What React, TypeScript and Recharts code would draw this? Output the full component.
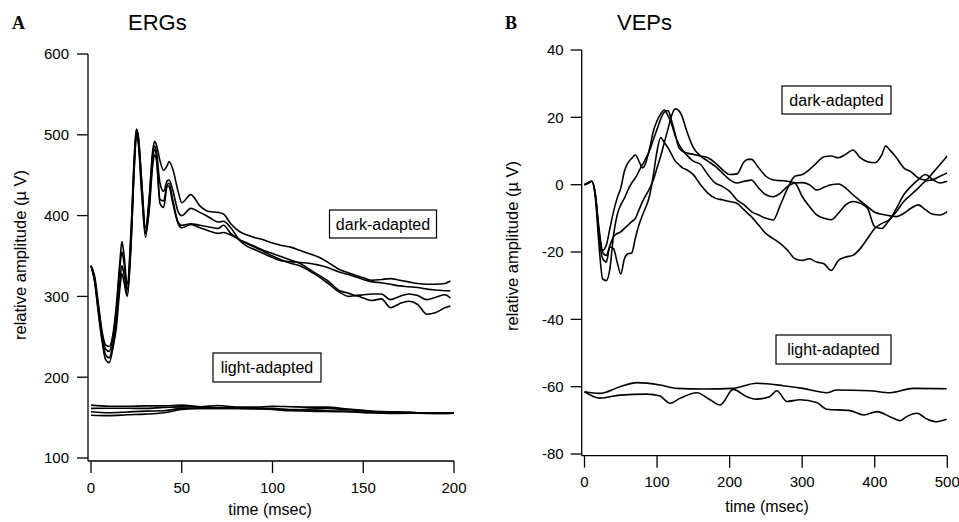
import React from 'react';
import { LineChart, Line, XAxis, YAxis } from 'recharts';

// ---------- Panel A: ERGs ----------
const ergT = [
  0, 2, 4, 6, 8, 10, 12, 14, 16, 17,
  18, 20, 22, 24, 25, 26, 28, 30, 32, 34,
  35, 36, 38, 40, 42, 43, 45, 48, 50, 55,
  60, 65, 70, 73, 77, 82, 86, 90, 95, 100,
  105, 110, 115, 120, 125, 130, 137, 142, 146, 150,
  155, 160, 165, 170, 175, 180, 185, 190, 195, 198,
];
const ergDark1 = [
  338, 325, 292, 258, 240, 238, 252, 290, 345, 368,
  355, 315, 380, 480, 507, 500, 440, 380, 420, 480,
  492, 488, 468, 456, 462, 467, 458, 430, 416, 426,
  412, 405, 404, 402, 390, 380, 376, 373, 370, 366,
  363, 361, 357, 353, 349, 343, 333, 329, 326, 323,
  320, 321, 322, 320, 318, 316, 315, 315, 316, 319,
];
const ergDark2 = [
  338, 322, 288, 255, 235, 232, 248, 282, 338, 355,
  345, 308, 372, 475, 505, 498, 438, 385, 418, 476,
  486, 480, 440, 430, 443, 444, 432, 405, 400, 409,
  404, 398, 392, 393, 385, 369, 362, 358, 353, 348,
  344, 343, 342, 341, 339, 336, 330, 327, 324, 321,
  318, 317, 315, 313, 312, 311, 309, 308, 307, 307,
];
const ergDark3 = [
  338, 320, 284, 250, 228, 224, 240, 270, 320, 338,
  330, 302, 365, 470, 502, 495, 430, 373, 410, 470,
  482, 475, 415, 410, 438, 440, 420, 392, 388, 390,
  388, 386, 384, 388, 378, 370, 366, 362, 357, 353,
  349, 345, 341, 334, 327, 320, 307, 304, 301, 302,
  303, 303, 296, 300, 303, 301, 296, 299, 302, 298,
];
const ergDark4 = [
  338, 318, 280, 246, 222, 218, 235, 262, 312, 328,
  320, 300, 360, 465, 498, 490, 425, 378, 405, 462,
  475, 470, 420, 418, 437, 436, 416, 390, 385, 389,
  385, 381, 378, 379, 376, 370, 365, 361, 356, 350,
  345, 341, 338, 332, 325, 317, 305, 300, 301, 298,
  295, 297, 286, 291, 294, 290, 278, 280, 286, 288,
];
const ergLightT = [0, 10, 20, 30, 40, 50, 60, 70, 80, 90, 100, 110, 120, 130, 140, 150, 160, 170, 180, 190, 200];
const ergLight1 = [165.4, 164, 164, 164.5, 164.5, 165.5, 163.5, 165, 163, 163, 164, 163.5, 163, 163, 161, 159, 157, 157, 156, 156, 155.5];
const ergLight2 = [161.4, 161.5, 161.5, 161.4, 162.5, 163.3, 163, 162.5, 162.5, 162, 161.4, 159.5, 160.5, 161.4, 160, 158.4, 157.5, 157, 156, 155.5, 155.5];
const ergLight3 = [157.2, 156, 157, 158, 158.4, 161.4, 161.4, 161.4, 161.4, 161, 160.5, 160, 159.5, 158.4, 158, 156.5, 156, 155.5, 155.5, 155.2, 155.5];
const ergLight4 = [153, 152.5, 153.5, 154.3, 156, 160, 161.4, 161.4, 161.4, 161, 160, 158.4, 158, 157.5, 157.2, 156.5, 155.5, 155.2, 155.5, 155, 155.5];
const ergXTicks = [0, 50, 100, 150, 200];
const ergYTicks = [100, 200, 300, 400, 500, 600];

// ---------- Panel B: VEPs ----------
const vepT = [
  0, 5, 10, 15, 20, 25, 30, 35, 40, 45,
  50, 55, 60, 65, 70, 75, 80, 90, 95, 100,
  105, 110, 115, 120, 125, 130, 135, 140, 150, 160,
  170, 180, 190, 200, 210, 220, 225, 230, 240, 250,
  260, 270, 280, 290, 300, 310, 320, 330, 340, 350,
  360, 370, 380, 390, 400, 410, 415, 420, 430, 440,
  450, 460, 470, 480, 490, 500,
];
const vepDarkA = [
  0, 0.5, 1, -3, -14, -19.5, -18, -13, -8, -4,
  -1, 4, 6.5, 7.8, 8.8, 7, 5, 11, 16, 19,
  21, 22.2, 20.5, 18, 14.5, 12, 10.3, 9, 7, 6,
  3, 0.5, -0.5, -2, -4.5, -6, -7, -8, -9, -10,
  -10.5, -6, -1, 2.5, 3, 4.5, 6.5, 8.3, 8.5, 8,
  9, 10.3, 8, 6.8, 6.5, 9, 11.5, 10.5, 8, 5,
  3.8, 2, 1.4, 3.5, 6, 8.5,
];
const vepDarkB = [
  0, 0.5, 1, -4, -18, -28, -28.5, -25, -15, -9,
  -6, -4, -1.5, 0.5, 2, 4, 6, 10.3, 13.5, 16.5,
  19.5, 21.5, 22, 19, 15, 11, 10, 9.5, 9, 8.5,
  8, 6.5, 4.5, 3, 3.2, 6.8, 7.5, 7.5, 5, 2.5,
  1.4, 1.2, 1, 0.5, -3.5, -6.5, -9, -10, -10.4, -8.5,
  -6, -5, -5.5, -7, -12.5, -13, -12, -10.5, -8, -5,
  -3, -1, 1, 1.5, 2.5, 3.5,
];
const vepDarkC = [
  0, 0.5, 1, -3, -15, -22, -23, -18.5, -19, -23,
  -26.5, -22, -20.5, -20.3, -16, -12, -9, -3, 3, 10,
  14, 12.5, 11, 9, 7, 6, 5, 4.5, 3, 0,
  -2.5, -4, -4.5, -5, -5.5, -7.5, -8.5, -9.5, -12, -14.5,
  -16, -17.5, -19.5, -22, -22.5, -22, -23, -23.5, -25.5, -22.5,
  -21.5, -21, -19, -16, -13, -11.5, -11, -10.5, -7, -3,
  -0.5, 1.5, 3, 1.5, 0.5, 1,
];
const vepDarkD = [
  0, 0.5, 1, -3, -13, -20, -21, -18, -15.5, -14.5,
  -14, -13, -12, -11, -10, -7.5, -5, -1, 1.5, 5,
  8.5, 12.5, 16.5, 20.5, 22.5, 22, 20, 16.5, 11, 8.5,
  7, 5.5, 3.5, 1.5, 0.5, 1, 1.2, 1.4, -1, -3,
  -3.6, -2.5, -0.5, 0.5, 0.6, 0, -1.6, -0.8, 0, 0.2,
  -1, -3, -4.8, -6.5, -8.2, -8.8, -9, -9.2, -9.5, -8.5,
  -7, -6, -7.5, -8.8, -9, -8,
];
const vepLightUpperT = [0, 21, 49, 72, 104, 127, 164, 205, 237, 274, 301, 334, 347, 393, 421, 453, 499];
const vepLightUpper = [-61.5, -62, -60, -58.8, -59.5, -60.5, -60.7, -60.5, -59, -59.7, -60.5, -61.8, -61, -61.2, -61.8, -60.5, -60.6];
const vepLightLowerT = [0, 21, 49, 86, 104, 118, 132, 155, 173, 187, 205, 224, 237, 255, 265, 279, 297, 320, 334, 366, 385, 403, 421, 435, 444, 458, 472, 485, 499];
const vepLightLower = [-61.5, -63.4, -62.5, -62.2, -62.8, -64.9, -63.4, -61.8, -63.9, -65.4, -60.8, -63, -63.7, -63, -61.2, -64.4, -63.9, -64.7, -66.7, -67.1, -68.4, -67.4, -68.9, -70.1, -68.9, -67.9, -69.6, -70.4, -69.7];
const vepXTicks = [0, 100, 200, 300, 400, 500];
const vepYTicks = [-80, -60, -40, -20, 0, 20, 40];

const FONT = '"Liberation Sans", Arial, Helvetica, sans-serif';
const SERIF = '"Liberation Serif", "Times New Roman", serif';

const toSeries = (t: number[], v: number[]) => t.map((x, i) => ({ x, y: v[i] }));

const ergSeries = [
  toSeries(ergT, ergDark1), toSeries(ergT, ergDark2), toSeries(ergT, ergDark3), toSeries(ergT, ergDark4),
  toSeries(ergLightT, ergLight1), toSeries(ergLightT, ergLight2), toSeries(ergLightT, ergLight3), toSeries(ergLightT, ergLight4),
];
const vepSeries = [
  toSeries(vepT, vepDarkA), toSeries(vepT, vepDarkB), toSeries(vepT, vepDarkC), toSeries(vepT, vepDarkD),
  toSeries(vepLightUpperT, vepLightUpper), toSeries(vepLightLowerT, vepLightLower),
];

const axisStroke = { stroke: '#000', strokeWidth: 1.3 };
const tickStyle = { fontSize: 15, fill: '#000', fontFamily: FONT };

function Traces(series: { x: number; y: number }[][]) {
  return series.map((d, i) => (
    <Line
      key={i}
      data={d}
      dataKey="y"
      type="monotone"
      stroke="#000"
      strokeWidth={1.6}
      dot={false}
      activeDot={false}
      isAnimationActive={false}
    />
  ));
}

export default function App() {
  return (
    <div style={{ position: 'absolute', left: 0, top: 0, width: 959, height: 522, background: '#fff', overflow: 'hidden' }}>
      <div style={{ position: 'absolute', left: 0, top: 0 }}>
        <LineChart width={480} height={522} margin={{ top: 54, right: 26, left: 28, bottom: 0 }}>
          <XAxis
            type="number"
            dataKey="x"
            domain={[-1.653, 200]}
            ticks={ergXTicks}
            allowDataOverflow
            interval={0}
            height={61}
            tickSize={12}
            tickMargin={9}
            axisLine={axisStroke}
            tickLine={axisStroke}
            tick={tickStyle}
          />
          <YAxis
            type="number"
            domain={[96.3, 600]}
            ticks={ergYTicks}
            allowDataOverflow
            interval={0}
            width={60}
            tickSize={11}
            tickMargin={8}
            axisLine={axisStroke}
            tickLine={axisStroke}
            tick={tickStyle}
          />
          {Traces(ergSeries)}
        </LineChart>
      </div>
      <div style={{ position: 'absolute', left: 480, top: 0 }}>
        <LineChart width={479} height={522} margin={{ top: 50, right: 11.7, left: 41.7, bottom: 0 }}>
          <XAxis
            type="number"
            dataKey="x"
            domain={[-3.86, 500]}
            ticks={vepXTicks}
            allowDataOverflow
            interval={0}
            height={66.3}
            tickSize={12}
            tickMargin={9}
            axisLine={axisStroke}
            tickLine={axisStroke}
            tick={tickStyle}
          />
          <YAxis
            type="number"
            domain={[-80.5, 40]}
            ticks={vepYTicks}
            allowDataOverflow
            interval={0}
            width={60}
            tickSize={11}
            tickMargin={7}
            axisLine={axisStroke}
            tickLine={axisStroke}
            tick={tickStyle}
          />
          {Traces(vepSeries)}
        </LineChart>
      </div>
      <svg width={959} height={522} style={{ position: 'absolute', left: 0, top: 0, pointerEvents: 'none' }}>
        <g fontFamily={FONT} fill="#000">
          <text x={12} y={29} fontFamily={SERIF} fontWeight="bold" fontSize={18}>A</text>
          <text x={128} y={30} fontSize={22}>ERGs</text>
          <text x={505} y={29} fontFamily={SERIF} fontWeight="bold" fontSize={18}>B</text>
          <text x={617} y={30} fontSize={22}>VEPs</text>

          <text x={270} y={515} fontSize={16} textAnchor="middle">time (msec)</text>
          <text x={767} y={512} fontSize={16} textAnchor="middle">time (msec)</text>
          <text transform="translate(20,255) rotate(-90)" fontSize={16.5} textAnchor="middle" dominantBaseline="central">relative amplitude (µ V)</text>
          <text transform="translate(512,246) rotate(-90)" fontSize={16.5} textAnchor="middle" dominantBaseline="central">relative amplitude (µ V)</text>

          <rect x={329.5} y={210} width={107} height={28} fill="#fff" stroke="#000" strokeWidth={1.2} />
          <text x={383} y={224} fontSize={16} textAnchor="middle" dominantBaseline="central">dark-adapted</text>
          <rect x={213} y={353} width={108} height={29} fill="#fff" stroke="#000" strokeWidth={1.2} />
          <text x={267} y={367.5} fontSize={16} textAnchor="middle" dominantBaseline="central">light-adapted</text>
          <rect x={782} y={86} width={109} height={28} fill="#fff" stroke="#000" strokeWidth={1.2} />
          <text x={836.5} y={100} fontSize={16} textAnchor="middle" dominantBaseline="central">dark-adapted</text>
          <rect x={776} y={335} width={115} height={29} fill="#fff" stroke="#000" strokeWidth={1.2} />
          <text x={833.5} y={349.5} fontSize={16} textAnchor="middle" dominantBaseline="central">light-adapted</text>
        </g>
      </svg>
    </div>
  );
}
